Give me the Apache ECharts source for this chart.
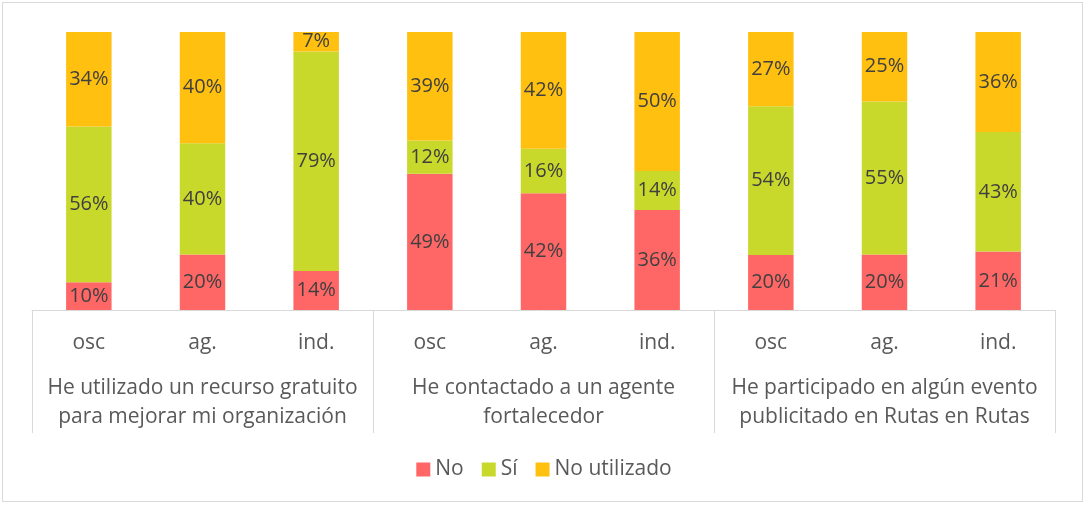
<!DOCTYPE html>
<html><head><meta charset="utf-8">
<script src="https://cdn.jsdelivr.net/npm/echarts@6/dist/echarts.min.js"></script>
<style>
html,body{margin:0;padding:0;background:#fff;}
#frame{position:absolute;left:2px;top:2px;width:1081px;height:500px;border:1px solid #d9d9d9;box-sizing:border-box;}
#c{position:absolute;left:0;top:0;width:1088px;height:505px;}
</style></head>
<body>
<div id="frame"></div>
<div id="c"></div>
<script>
const subCategories = ['osc','ag.','ind.','osc','ag.','ind.','osc','ag.','ind.'];
const groups = ['He utilizado un recurso gratuito\npara mejorar mi organización','He contactado a un agente\nfortalecedor','He participado en algún evento\npublicitado en Rutas en Rutas'];
const seriesNames = ['No','Sí','No utilizado'];
const noValues = [10,20,14,49,42,36,20,20,21];
const siValues = [56,40,79,12,16,14,54,55,43];
const noUtilValues = [34,40,7,39,42,50,27,25,36];
const colors = ['#FF6766','#C9D92B','#FFC010'];

const raw = [noValues, siValues, noUtilValues];
const totals = subCategories.map((_, i) => raw[0][i] + raw[1][i] + raw[2][i]);
const font = '"Open Sans", sans-serif';

const chart = echarts.init(document.getElementById('c'));
chart.setOption({
  animation: false,
  textStyle: { fontFamily: font },
  grid: { left: 32, right: 33, top: 32, bottom: 195 },
  legend: {
    bottom: 20, left: 'center', itemWidth: 14, itemHeight: 14, itemGap: 18,
    icon: 'rect',
    textStyle: { fontSize: 21, color: '#595959', fontFamily: font },
    data: seriesNames
  },
  xAxis: [
    {
      type: 'category', data: subCategories, position: 'bottom',
      axisLine: { show: true, lineStyle: { color: '#d9d9d9', width: 1 } },
      axisTick: { show: false },
      axisLabel: { color: '#595959', fontSize: 21, margin: 23, interval: 0, fontFamily: font }
    },
    {
      type: 'category', data: groups, position: 'bottom', boundaryGap: true,
      axisLine: { show: false },
      axisTick: { show: true, length: 123, interval: 0, lineStyle: { color: '#d9d9d9', width: 1 } },
      axisLabel: { color: '#595959', fontSize: 21, lineHeight: 29, margin: 64, interval: 0, fontFamily: font }
    }
  ],
  yAxis: {
    type: 'value', min: 0, max: 100, show: false,
    splitLine: { show: false }
  },
  series: raw.map((vals, s) => ({
    name: seriesNames[s], type: 'bar', stack: 'total', xAxisIndex: 0,
    barWidth: '40%',
    itemStyle: { color: colors[s] },
    label: {
      show: true, position: 'inside', color: '#404040', fontSize: 20, fontFamily: font,
      formatter: p => raw[s][p.dataIndex] + '%'
    },
    data: vals.map((v, i) => v / totals[i] * 100)
  }))
});
</script>
</body></html>
